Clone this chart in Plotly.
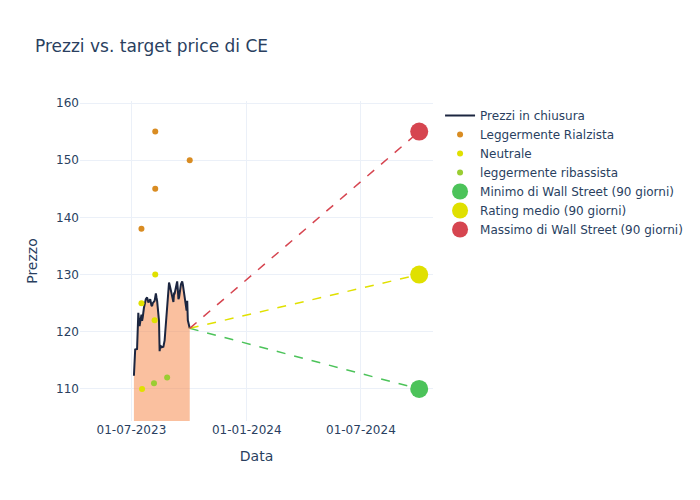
import pandas as pd
import plotly.graph_objects as go

# Closing prices (business days 2023-07-05 .. 2023-10-02)
price_dates = pd.bdate_range("2023-07-05", "2023-10-02")
price_values = [
    112.3, 114.5, 116.9, 117.0, 120.5, 123.3, 122.0, 121.0, 123.0, 121.9,
    122.5, 123.5, 124.2, 125.7, 125.9, 126.0, 125.6, 125.1, 125.7,
    125.0, 124.6, 124.5, 125.0, 125.4, 126.0, 126.7, 126.0, 125.4, 121.9,
    116.6, 117.6, 117.5, 117.3, 117.4, 117.8, 118.5, 120.0, 121.3, 124.8,
    126.5, 128.6, 128.2,
    127.7, 126.6, 126.0, 125.2, 126.7, 126.7, 128.3, 128.8, 127.4, 125.7,
    126.0, 128.3, 128.6, 128.8, 128.3, 127.5, 124.8, 124.0, 123.7, 125.4,
    122.0,
    120.6,
]

# Analyst ratings
rialz_dates = ["2023-08-08", "2023-10-02", "2023-08-08", "2023-07-17"]
rialz_values = [155, 150, 145, 138]
neutr_dates = ["2023-08-08", "2023-07-17", "2023-08-07", "2023-07-18"]
neutr_values = [130, 125, 122, 110]
ribas_dates = ["2023-08-06", "2023-08-27"]
ribas_values = [111, 112]

# Wall Street targets (90 days)
target_date = "2024-10-02"
target_min = 110
target_avg = 130
target_max = 155

last_date = price_dates[-1]
last_price = price_values[-1]

fig = go.Figure()

# area under the closing prices
fig.add_trace(go.Scatter(
    x=price_dates, y=price_values, mode="none", showlegend=False,
    fill="tozeroy", fillcolor="rgba(245,140,80,0.55)", hoverinfo="skip",
))
fig.add_trace(go.Scatter(
    x=price_dates, y=price_values, mode="lines", name="Prezzi in chiusura",
    line=dict(color="#1c2640", width=2),
))

fig.add_trace(go.Scatter(
    x=rialz_dates, y=rialz_values, mode="markers", name="Leggermente Rialzista",
    marker=dict(color="#d98c22", size=6),
))
fig.add_trace(go.Scatter(
    x=neutr_dates, y=neutr_values, mode="markers", name="Neutrale",
    marker=dict(color="#e0e000", size=6),
))
fig.add_trace(go.Scatter(
    x=ribas_dates, y=ribas_values, mode="markers", name="leggermente ribassista",
    marker=dict(color="#9acd32", size=6),
))

for val, color in [(target_min, "#4cc35a"), (target_avg, "#e0e000"), (target_max, "#d64550")]:
    fig.add_trace(go.Scatter(
        x=[last_date, target_date], y=[last_price, val], mode="lines",
        line=dict(color=color, dash="dash", width=1.5), showlegend=False,
        hoverinfo="skip",
    ))

fig.add_trace(go.Scatter(
    x=[target_date], y=[target_min], mode="markers",
    name="Minimo di Wall Street (90 giorni)",
    marker=dict(color="#4cc35a", size=18),
))
fig.add_trace(go.Scatter(
    x=[target_date], y=[target_avg], mode="markers",
    name="Rating medio (90 giorni)",
    marker=dict(color="#e0e000", size=18),
))
fig.add_trace(go.Scatter(
    x=[target_date], y=[target_max], mode="markers",
    name="Massimo di Wall Street (90 giorni)",
    marker=dict(color="#d64550", size=18),
))

fig.update_layout(
    template="plotly_white",
    width=692, height=492,
    margin=dict(l=72, t=93, b=79),
    font=dict(family="DejaVu Sans"),
    title=dict(text="Prezzi vs. target price di CE", x=0.039,
               yref="container", y=0.9228, yanchor="middle"),
    xaxis=dict(title="Data", tickformat="%d-%m-%Y",
               range=["2023-04-10", "2024-10-24"]),
    yaxis=dict(title="Prezzo", range=[104.4, 160.35]),
)

fig.write_html("out.html")
